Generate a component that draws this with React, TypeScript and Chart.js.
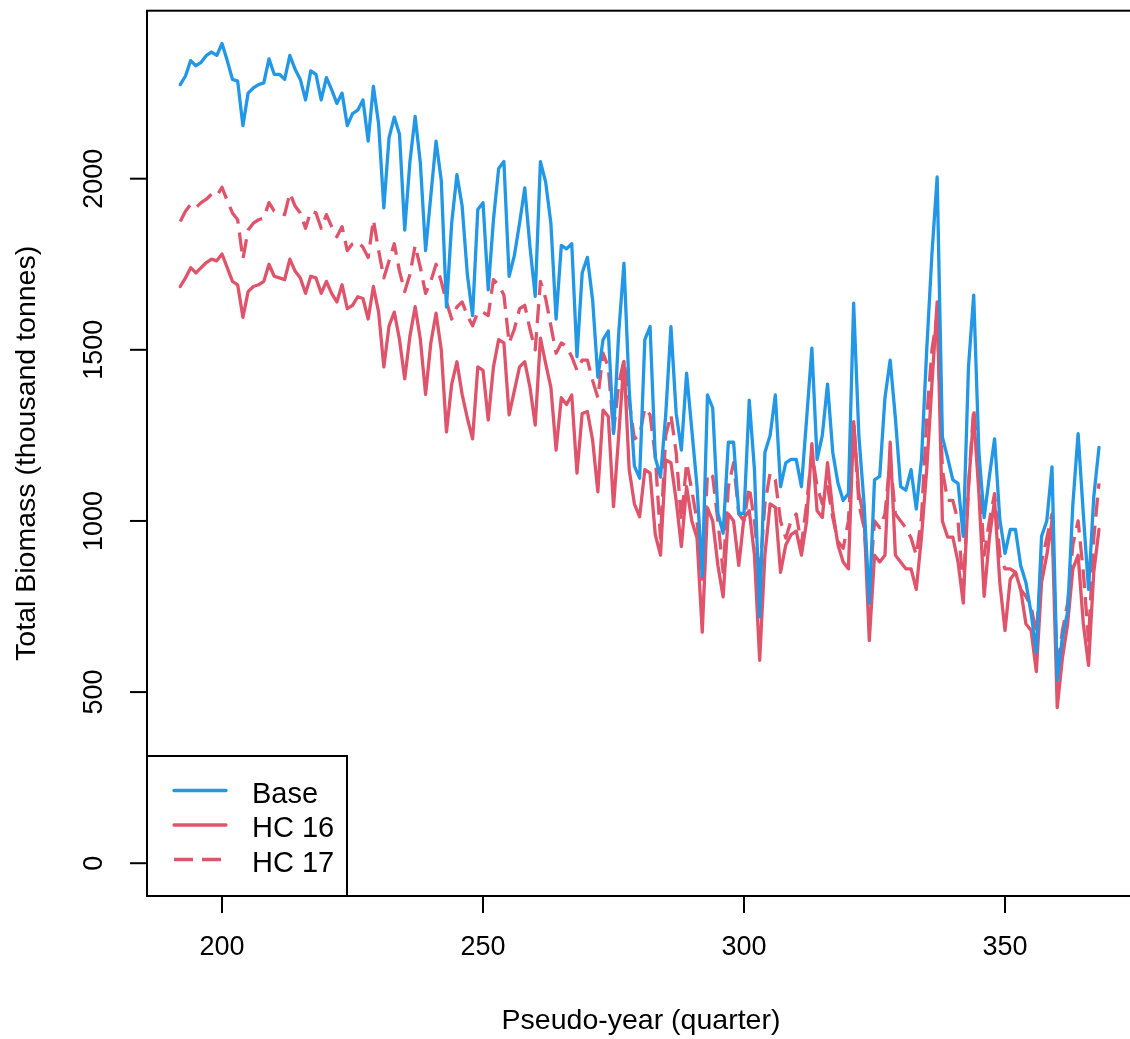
import React, { useEffect, useRef } from "react";
import { Chart, registerables } from "chart.js";

Chart.register(...registerables);

// Quarters 192..368 (index axis)
const firstQuarter = 192;
const lastQuarter = 368;
const quarters: number[] = Array.from({ length: lastQuarter - firstQuarter + 1 }, (_, i) => firstQuarter + i);

// Total biomass (thousand tonnes), one value per quarter 192..368
const base: number[] = [
  2275, 2300, 2345, 2330, 2340, 2360, 2370, 2360, 2395, 2345,
  2290, 2285, 2155, 2250, 2265, 2275, 2280, 2350, 2305, 2305,
  2290, 2360, 2320, 2290, 2230, 2315, 2305, 2230, 2295, 2260,
  2220, 2250, 2155, 2190, 2200, 2230, 2110, 2270, 2160, 1915,
  2120, 2180, 2130, 1850, 2050, 2182, 2045, 1790, 1950, 2110,
  1995, 1625, 1870, 2012, 1920, 1720, 1600, 1910, 1930, 1675,
  1880, 2030, 2050, 1715, 1775, 1870, 1973, 1800, 1656, 2050,
  1990, 1870, 1590, 1805, 1795, 1810, 1480, 1725, 1770, 1645,
  1420, 1530, 1555, 1256, 1550, 1753, 1383, 1160, 1125, 1530,
  1568, 1185, 1128, 1310, 1568, 1315, 1207, 1432, 1266, 1100,
  838, 1368, 1330, 1022, 964, 1230, 1230, 1022, 1022, 1353,
  1150, 720, 1200, 1250, 1368, 1100, 1170, 1180, 1180, 1100,
  1300, 1505, 1180, 1250, 1400, 1200, 1110, 1060, 1080, 1636,
  1250, 1050, 760, 1120, 1130, 1360, 1470, 1300, 1100, 1090,
  1150, 1035, 1180, 1500, 1780, 2005, 1245, 1185, 1120, 1110,
  955, 1450, 1660, 1200, 1010, 1130, 1240, 1005, 905, 975,
  975, 870, 820, 730, 615, 955, 1000, 1158, 535, 660,
  735, 1050, 1255, 1020, 800, 1070, 1215,
];

const hc16: number[] = [
  1685, 1710, 1740, 1725, 1740, 1755, 1765, 1760, 1780, 1740,
  1700, 1690, 1595, 1670, 1685, 1690, 1700, 1750, 1715, 1710,
  1705, 1765, 1730, 1710, 1665, 1715, 1710, 1665, 1700, 1665,
  1640, 1690, 1620, 1630, 1655, 1650, 1590, 1685, 1610, 1450,
  1570, 1610, 1530, 1415, 1540, 1626, 1530, 1370, 1520, 1607,
  1500, 1260, 1400, 1465, 1370, 1300, 1240, 1450, 1440, 1295,
  1450, 1530, 1520, 1310, 1380, 1450, 1465, 1390, 1280, 1534,
  1460, 1390, 1207, 1360, 1340, 1368, 1140, 1314, 1320, 1236,
  1085, 1324, 1305, 1042, 1250, 1466, 1150, 1050, 1012, 1150,
  1140, 960, 900, 1178, 1170, 1060, 925, 1100, 1000, 950,
  675, 1038, 1000, 870, 778, 1020, 1000, 870, 1010, 1030,
  900, 593, 900, 1050, 1040, 850, 930, 960, 970, 900,
  1000, 1226, 1030, 1010, 1170, 1030, 930, 880, 860, 1290,
  1080, 1010, 651, 900, 880, 900, 1230, 900, 880, 860,
  860, 800, 953, 1150, 1400, 1640, 1000, 953, 953, 880,
  760, 1100, 1310, 1080, 780, 950, 1060, 820, 680, 830,
  850, 800, 700, 680, 560, 820, 900, 1000, 455, 600,
  700, 860, 900, 700, 578, 850, 975,
];

const hc17: number[] = [
  1875, 1905, 1925, 1915, 1930, 1940, 1955, 1950, 1975, 1935,
  1900, 1880, 1765, 1850, 1870, 1880, 1885, 1930, 1905, 1900,
  1895, 1958, 1920, 1900, 1855, 1905, 1900, 1855, 1895, 1860,
  1830, 1860, 1790, 1810, 1815, 1800, 1770, 1880, 1790, 1710,
  1760, 1810, 1730, 1670, 1720, 1805, 1740, 1665, 1700, 1750,
  1700, 1640, 1590, 1625, 1640, 1600, 1570, 1610, 1610, 1600,
  1705, 1690, 1660, 1520, 1560, 1620, 1630, 1560, 1500, 1700,
  1650, 1570, 1490, 1520, 1510, 1480, 1440, 1470, 1470, 1410,
  1360, 1490, 1450, 1260, 1400, 1470, 1350, 1240, 1250, 1330,
  1310, 1190, 950, 1250, 1310, 1200, 1000, 1170, 1090, 1000,
  830, 1140, 1130, 1000, 850, 1100, 1170, 1020, 1000, 1100,
  1000, 840, 1050, 1140, 1120, 1000, 950, 1000, 1020, 930,
  1050, 1200, 1100, 1050, 1100, 1010, 940, 920, 1000, 1290,
  1050, 980, 800, 1000, 980, 1020, 1180, 1020, 1000, 980,
  950, 900, 1010, 1300, 1500, 1600, 1150, 1060, 1060, 1000,
  800, 1100, 1330, 1150, 900, 1000, 1080, 900, 860, 860,
  850, 800, 780, 750, 670, 880, 950, 1020, 560, 680,
  760, 930, 1000, 850, 650, 950, 1110,
];

const xTicks: number[] = [200, 250, 300, 350];
const yTicks: number[] = [0, 500, 1000, 1500, 2000];
const seriesNames: string[] = ["Base", "HC 16", "HC 17"];
const seriesColors: string[] = ["#2297E6", "#DF536B", "#DF536B"];
const seriesDash: number[][] = [[], [], [19, 9]];
const xTitle = "Pseudo-year (quarter)";
const yTitle = "Total Biomass (thousand tonnes)";

const FONT_FAMILY = '"Liberation Sans", Arial, Helvetica, sans-serif';
const TICK_FONT = 27;
const TITLE_FONT = 28.5;
const LEGEND_FONT = 29;
const LINE_W = 3.3;

const rAxesPlugin = {
  id: "rAxes",
  afterDraw(chart: any) {
    const { ctx, chartArea: a, scales } = chart;
    const xs = scales.x;
    const ys = scales.y;
    ctx.save();
    ctx.strokeStyle = "#000";
    ctx.fillStyle = "#000";
    ctx.lineWidth = 2;
    ctx.lineCap = "butt";
    ctx.setLineDash([]);
    // frame
    ctx.strokeRect(a.left, a.top, a.right - a.left, a.bottom - a.top);
    ctx.font = `${TICK_FONT}px ${FONT_FAMILY}`;
    // x ticks
    ctx.textAlign = "center";
    ctx.textBaseline = "alphabetic";
    for (const v of xTicks) {
      const px = xs.getPixelForValue(v);
      ctx.beginPath();
      ctx.moveTo(px, a.bottom);
      ctx.lineTo(px, a.bottom + 17);
      ctx.stroke();
      ctx.fillText(String(v), px, a.bottom + 59);
    }
    // y ticks
    for (const v of yTicks) {
      const py = ys.getPixelForValue(v);
      ctx.beginPath();
      ctx.moveTo(a.left - 17, py);
      ctx.lineTo(a.left, py);
      ctx.stroke();
      ctx.save();
      ctx.translate(a.left - 45, py);
      ctx.rotate(-Math.PI / 2);
      ctx.textAlign = "center";
      ctx.fillText(String(v), 0, 0);
      ctx.restore();
    }
    // axis titles
    ctx.font = `${TITLE_FONT}px ${FONT_FAMILY}`;
    ctx.textAlign = "center";
    ctx.fillText(xTitle, (a.left + a.right) / 2, a.bottom + 133);
    ctx.save();
    ctx.translate(a.left - 112, (a.top + a.bottom) / 2);
    ctx.rotate(-Math.PI / 2);
    ctx.fillText(yTitle, 0, 0);
    ctx.restore();

    // legend (R style box, bottom-left)
    const lx = a.left;
    const ly = a.bottom - 140;
    const lw = 200;
    ctx.fillStyle = "#fff";
    ctx.fillRect(lx, ly, lw, a.bottom - ly);
    ctx.strokeStyle = "#000";
    ctx.lineWidth = 2;
    ctx.strokeRect(lx, ly, lw, a.bottom - ly);
    ctx.font = `${LEGEND_FONT}px ${FONT_FAMILY}`;
    ctx.textAlign = "left";
    for (let i = 0; i < seriesNames.length; i++) {
      const cy = ly + 34.5 + i * 34.5;
      ctx.strokeStyle = seriesColors[i];
      ctx.lineWidth = LINE_W;
      ctx.lineCap = seriesDash[i].length ? "butt" : "round";
      ctx.setLineDash(seriesDash[i]);
      ctx.beginPath();
      ctx.moveTo(lx + 27, cy);
      ctx.lineTo(lx + 79, cy);
      ctx.stroke();
      ctx.setLineDash([]);
      ctx.fillStyle = "#000";
      ctx.fillText(seriesNames[i], lx + 105, cy + 12);
    }
    ctx.restore();
  },
};

export default function App() {
  const canvasRef = useRef<HTMLCanvasElement | null>(null);

  useEffect(() => {
    const canvas = canvasRef.current;
    if (!canvas) return;
    const series = [base, hc16, hc17];
    const chart = new Chart(canvas, {
      type: "line",
      data: {
        datasets: series.map((vals, i) => ({
          label: seriesNames[i],
          data: quarters.map((q, k) => ({ x: q, y: vals[k] })),
          borderColor: seriesColors[i],
          backgroundColor: seriesColors[i],
          borderWidth: LINE_W,
          borderDash: seriesDash[i],
          borderCapStyle: seriesDash[i].length ? "butt" : "round",
          borderJoinStyle: "round",
          pointRadius: 0,
          tension: 0,
          fill: false,
          order: i,
        })),
      },
      options: {
        animation: false,
        responsive: false,
        devicePixelRatio: 1,
        layout: { padding: { left: 147, top: 10.7, right: 25, bottom: 143 } },
        plugins: { legend: { display: false }, tooltip: { enabled: false } },
        scales: {
          x: { type: "linear", min: 185.63, max: 374.9, display: false },
          y: { type: "linear", min: -95.8, max: 2490.8, display: false },
        },
      },
      plugins: [rAxesPlugin],
    } as any);
    return () => chart.destroy();
  }, []);

  return (
    <div
      style={{
        position: "fixed",
        left: 0,
        top: 0,
        width: 1130,
        height: 1039,
        overflow: "hidden",
        background: "#fff",
      }}
    >
      <canvas ref={canvasRef} width={1160} height={1039} style={{ width: 1160, height: 1039, display: "block" }} />
    </div>
  );
}
